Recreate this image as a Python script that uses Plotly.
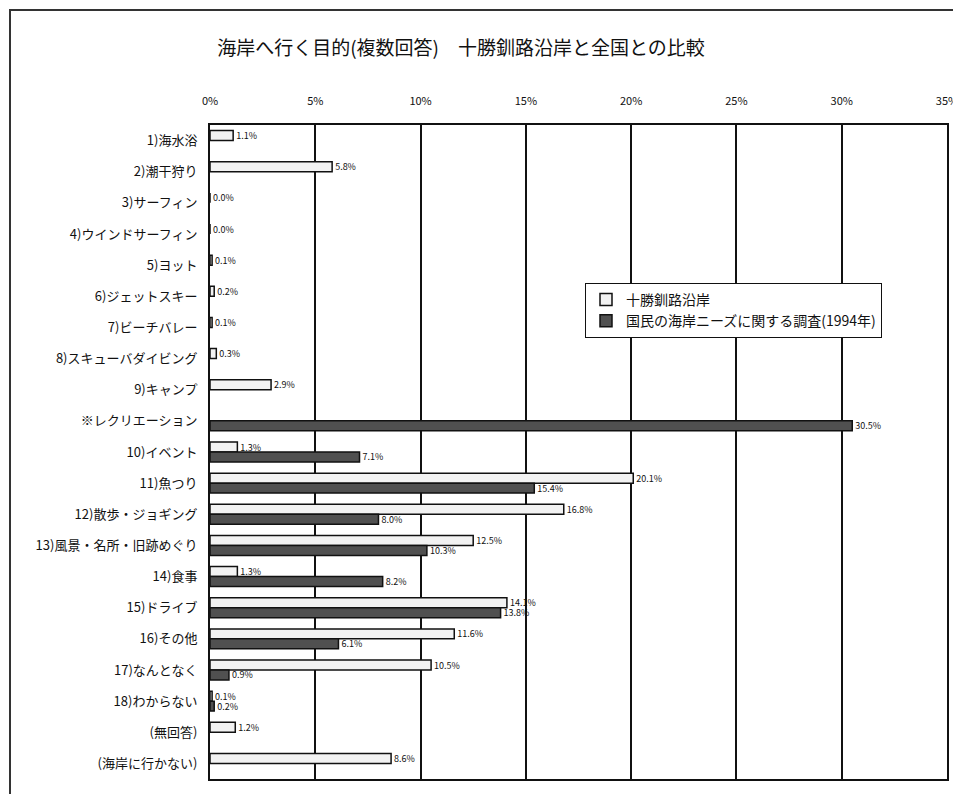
import plotly.graph_objects as go

categories = [
    "1)海水浴", "2)潮干狩り", "3)サーフィン", "4)ウインドサーフィン", "5)ヨット",
    "6)ジェットスキー", "7)ビーチバレー", "8)スキューバダイビング", "9)キャンプ",
    "※レクリエーション", "10)イベント", "11)魚つり", "12)散歩・ジョギング",
    "13)風景・名所・旧跡めぐり", "14)食事", "15)ドライブ", "16)その他",
    "17)なんとなく", "18)わからない", "(無回答)", "(海岸に行かない)",
]
tokachi = [1.1, 5.8, 0.0, 0.0, 0.1, 0.2, 0.1, 0.3, 2.9, None, 1.3, 20.1, 16.8,
           12.5, 1.3, 14.1, 11.6, 10.5, 0.1, 1.2, 8.6]
national = [None, None, None, None, None, None, None, None, None, 30.5, 7.1, 15.4,
            8.0, 10.3, 8.2, 13.8, 6.1, 0.9, 0.2, None, None]
series_names = ["十勝釧路沿岸", "国民の海岸ニーズに関する調査(1994年)"]
tick_vals = [0, 5, 10, 15, 20, 25, 30, 35]

FONT = "Noto Sans CJK JP"

def labels(vals):
    return ["" if v is None else f"{v:.1f}%" for v in vals]

fig = go.Figure()
fig.add_trace(go.Bar(
    y=categories, x=tokachi, orientation="h", name=series_names[0],
    marker=dict(color="#f2f2f2", line=dict(color="#111111", width=1.5)),
    text=labels(tokachi), textposition="outside", cliponaxis=False,
    constraintext="none",
    textfont=dict(size=9, color="#111111", family=FONT),
))
fig.add_trace(go.Bar(
    y=categories, x=national, orientation="h", name=series_names[1],
    marker=dict(color="#505050", line=dict(color="#111111", width=1.5)),
    text=labels(national), textposition="outside", cliponaxis=False,
    constraintext="none",
    textfont=dict(size=9, color="#111111", family=FONT),
))

# page body has an 8px margin; compensate so the plot lands where the reference has it
OFF = 8
W, H = 961 - OFF, 794 - OFF
L, T = 210 - OFF, 125 - OFF
pw, ph = 737, 654
R = W - L - pw
B = H - T - ph

fig.update_layout(
    width=W, height=H,
    margin=dict(l=L, r=R, t=T, b=B, autoexpand=False),
    paper_bgcolor="white", plot_bgcolor="white",
    barmode="group", bargap=0.36, bargroupgap=0.0,
    font=dict(family=FONT, color="#111111"),
    title=dict(text="海岸へ行く目的(複数回答)　十勝釧路沿岸と全国との比較",
               x=(461 - OFF) / W, xref="container", xanchor="center",
               y=1 - (48 - OFF) / H, yref="container", yanchor="middle",
               font=dict(size=19, family=FONT, color="#111111")),
    legend=dict(x=(585 - 210) / pw, y=(779 - 283) / ph, xanchor="left", yanchor="top",
                bgcolor="white", bordercolor="#111111", borderwidth=1,
                font=dict(size=14, family=FONT, color="#111111"),
                tracegroupgap=0, itemwidth=30),
    showlegend=True,
    xaxis=dict(range=[0, 35], side="top", tickvals=tick_vals,
               ticktext=[f"{v}%" for v in tick_vals],
               showgrid=True, gridcolor="#111111", gridwidth=2,
               showline=True, linecolor="#111111", linewidth=2, mirror=True,
               zeroline=False, ticks="", ticklabelstandoff=14,
               tickfont=dict(size=11, family=FONT, color="#111111")),
    yaxis=dict(autorange="reversed", showline=True, linecolor="#111111", linewidth=2,
               mirror=True, ticks="", showgrid=False, ticklabelstandoff=8,
               tickfont=dict(size=13, family=FONT, color="#111111")),
    shapes=[dict(type="rect", xref="paper", yref="paper",
                 x0=(10 - 210) / pw, x1=1 + (R + 5) / pw,
                 y0=-(B + 5) / ph, y1=1 + (125 - 10) / ph,
                 line=dict(color="#333333", width=2), fillcolor="rgba(0,0,0,0)",
                 layer="below")],
)

fig.write_html("out.html")
